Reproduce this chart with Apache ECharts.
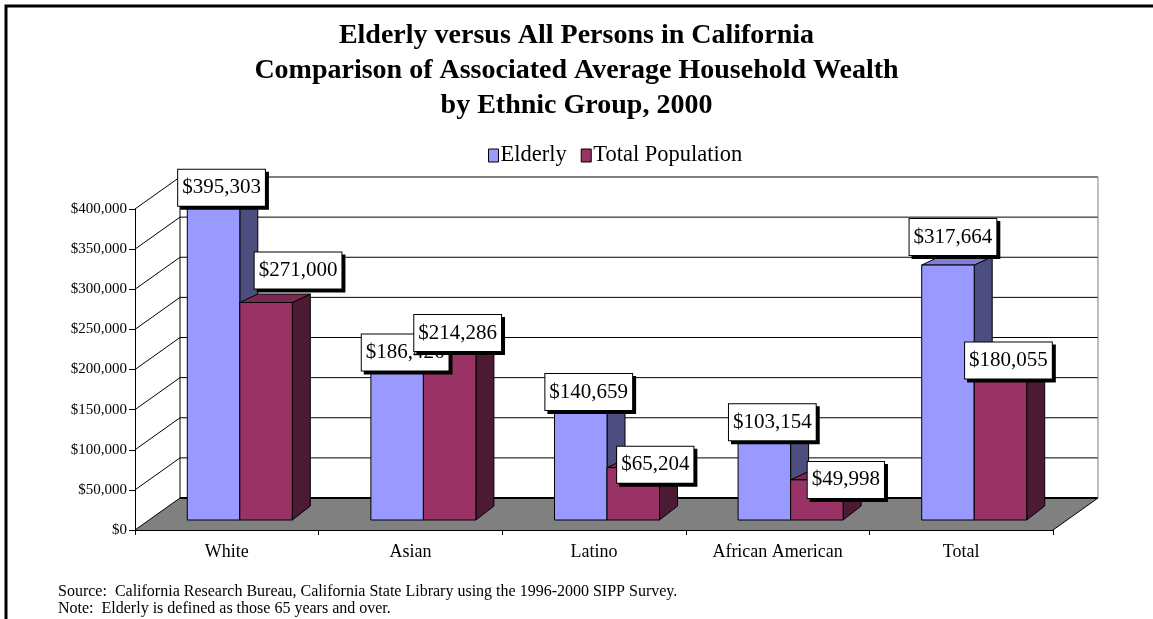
<!DOCTYPE html>
<html>
<head>
<meta charset="utf-8">
<title>Elderly versus All Persons in California</title>
<script src="https://cdn.jsdelivr.net/npm/echarts@6/dist/echarts.min.js"></script>
<style>
  html, body { margin: 0; padding: 0; background: #fff; }
  #chart { width: 1153px; height: 619px; }
</style>
</head>
<body>
<div id="chart"></div>
<script>
// ---- data ----
const categories = ['White', 'Asian', 'Latino', 'African American', 'Total'];
const elderly = [395303, 186426, 140659, 103154, 317664];
const totalPopulation = [271000, 214286, 65204, 49998, 180055];
const yTickValues = [0, 50000, 100000, 150000, 200000, 250000, 300000, 350000, 400000];
const seriesNames = ['Elderly', 'Total Population'];

// ---- look ----
const SERIF = '"Liberation Serif", "Times New Roman", serif';
const WALL_DX = 45, WALL_DY = -32;          // depth of the floor / side wall
const PLANE_DX = 13, PLANE_DY = -10;        // where the bars stand inside the floor
const BAR_FRAC = 0.286;                      // bar width as part of a category band
const SIDE_DX = 18, SIDE_DY_TOP = -8.5, SIDE_DY_BOTTOM = -14;
const palette = [
  { front: '#9999FF', side: '#4D4D80', top: '#7F7FD6' },
  { front: '#993366', side: '#4C1A33', top: '#7A2952' }
];
// small nudges so that value boxes do not sit on top of each other
const labelNudge = [
  [[0, 0], [0, -3], [0, 0], [0, 0], [-3, -13]],
  [[24, -17], [0, 0], [14, 12], [21, 15], [0, 0]]
];

const money = v => '$' + v.toLocaleString('en-US');

function renderWalls(params, api) {
  const cs = params.coordSys;
  const L = cs.x, R = cs.x + cs.width, B = cs.y + cs.height;
  const kids = [];
  // floor
  kids.push({
    type: 'polygon', z2: 0,
    shape: { points: [[L, B], [L + WALL_DX, B + WALL_DY], [R + WALL_DX, B + WALL_DY], [R, B]] },
    style: { fill: '#808080', stroke: null }
  });
  // back wall grid lines and side wall diagonals
  yTickValues.forEach(v => {
    const y = api.coord([0, v])[1];
    kids.push({
      type: 'line', z2: 1,
      shape: { x1: L + WALL_DX, y1: y + WALL_DY, x2: R + WALL_DX, y2: y + WALL_DY },
      style: { stroke: '#000', lineWidth: v === 0 ? 2 : 1 }
    });
    kids.push({
      type: 'line', z2: 1,
      shape: { x1: L, y1: y, x2: L + WALL_DX, y2: y + WALL_DY },
      style: { stroke: '#000', lineWidth: 1 }
    });
  });
  const yTop = api.coord([0, yTickValues[yTickValues.length - 1]])[1];
  // back wall corners
  kids.push({
    type: 'line', z2: 1,
    shape: { x1: L + WALL_DX, y1: yTop + WALL_DY, x2: L + WALL_DX, y2: B + WALL_DY },
    style: { stroke: '#000', lineWidth: 1 }
  });
  kids.push({
    type: 'line', z2: 1,
    shape: { x1: R + WALL_DX, y1: yTop + WALL_DY, x2: R + WALL_DX, y2: B + WALL_DY },
    style: { stroke: '#808080', lineWidth: 1 }
  });
  // right floor edge
  kids.push({
    type: 'line', z2: 1,
    shape: { x1: R, y1: B, x2: R + WALL_DX, y2: B + WALL_DY },
    style: { stroke: '#000', lineWidth: 1 }
  });
  return { type: 'group', children: kids };
}

function makeBarRenderer(si) {
  const pal = palette[si];
  return function (params, api) {
    const i = api.value(0);
    const v = api.value(1);
    const band = api.size([1, 0])[0];
    const base = api.coord([i, 0]);
    const topPt = api.coord([i, v]);
    const w = band * BAR_FRAC;
    const xl = base[0] + PLANE_DX - w + si * w;
    const xr = xl + w;
    const yb = base[1] + PLANE_DY;
    const yt = topPt[1] + PLANE_DY;
    const kids = [];
    const edge = { stroke: '#000', lineWidth: 1, lineJoin: 'round' };
    kids.push({
      type: 'polygon',
      shape: { points: [[xr, yt], [xr + SIDE_DX, yt + SIDE_DY_TOP], [xr + SIDE_DX, yb + SIDE_DY_BOTTOM], [xr, yb]] },
      style: Object.assign({ fill: pal.side }, edge)
    });
    kids.push({
      type: 'polygon',
      shape: { points: [[xl, yt], [xl + SIDE_DX, yt + SIDE_DY_TOP], [xr + SIDE_DX, yt + SIDE_DY_TOP], [xr, yt]] },
      style: Object.assign({ fill: pal.top }, edge)
    });
    kids.push({
      type: 'rect',
      shape: { x: xl, y: yt, width: w, height: yb - yt },
      style: Object.assign({ fill: pal.front }, edge)
    });
    // value box with drop shadow
    const nudge = labelNudge[si][i];
    const lx = (xl + xr) / 2 + 8 + nudge[0];
    const ly = yt - 15 + nudge[1];
    const textStyle = {
      text: money(v), x: lx, y: ly, align: 'center', verticalAlign: 'middle',
      font: '21px ' + SERIF, padding: [8, 4, 7, 4], borderWidth: 1
    };
    const zb = 100 + si * 10 + i * 2;
    kids.push({
      type: 'text', z2: zb,
      style: Object.assign({}, textStyle, { x: lx + 3, y: ly + 3, fill: '#000', backgroundColor: '#000', borderColor: '#000' })
    });
    kids.push({
      type: 'text', z2: zb + 1,
      style: Object.assign({}, textStyle, { fill: '#000', backgroundColor: '#fff', borderColor: '#000' })
    });
    return { type: 'group', children: kids };
  };
}

const chart = echarts.init(document.getElementById('chart'), null, { renderer: 'canvas' });

chart.setOption({
  animation: false,
  backgroundColor: '#fff',
  title: {
    text: 'Elderly versus All Persons in California\nComparison of Associated Average Household Wealth\nby Ethnic Group, 2000',
    left: 'center', top: 18, padding: 0,
    textStyle: { fontFamily: SERIF, fontWeight: 'bold', fontSize: 28, lineHeight: 35, color: '#000' }
  },
  legend: {
    data: seriesNames,
    left: 488, top: 144, padding: 0,
    icon: 'rect', itemWidth: 10, itemHeight: 13, itemGap: 14,
    itemStyle: { borderColor: '#000', borderWidth: 1 },
    textStyle: { fontFamily: SERIF, fontSize: 22.5, color: '#000', padding: [0, 0, 0, -3] }
  },
  grid: { left: 135, top: 209, width: 918, height: 321, containLabel: false },
  xAxis: {
    type: 'category', data: categories, z: 10,
    axisLine: { lineStyle: { color: '#000', width: 1 } },
    axisTick: { show: true, length: 5, lineStyle: { color: '#000' } },
    axisLabel: { fontFamily: SERIF, fontSize: 18, color: '#000', margin: 13 }
  },
  yAxis: {
    type: 'value', min: 0, max: 400000, interval: 50000, z: 10,
    axisLine: { show: true, lineStyle: { color: '#000', width: 1 } },
    axisTick: { show: true, length: 6, lineStyle: { color: '#000' } },
    splitLine: { show: false },
    axisLabel: { fontFamily: SERIF, fontSize: 15, color: '#000', margin: 8, formatter: money }
  },
  graphic: [
    { type: 'rect', shape: { x: 6, y: 6, width: 1300, height: 800 }, style: { fill: null, stroke: '#000', lineWidth: 3 }, silent: true },
    { type: 'text', left: 58, top: 584, style: { text: 'Source:  California Research Bureau, California State Library using the 1996-2000 SIPP Survey.', font: '16px ' + SERIF, fill: '#000' } },
    { type: 'text', left: 58, top: 601, style: { text: 'Note:  Elderly is defined as those 65 years and over.', font: '16px ' + SERIF, fill: '#000' } }
  ],
  series: [
    {
      type: 'custom', name: 'walls', z: 1, silent: true,
      renderItem: renderWalls, data: [[0, 0]]
    },
    {
      type: 'custom', name: seriesNames[0], z: 2,
      itemStyle: { color: palette[0].front },
      renderItem: makeBarRenderer(0),
      encode: { x: 0, y: 1 },
      data: elderly.map((v, i) => [i, v])
    },
    {
      type: 'custom', name: seriesNames[1], z: 2,
      itemStyle: { color: palette[1].front },
      renderItem: makeBarRenderer(1),
      encode: { x: 0, y: 1 },
      data: totalPopulation.map((v, i) => [i, v])
    }
  ]
});
</script>
</body>
</html>
